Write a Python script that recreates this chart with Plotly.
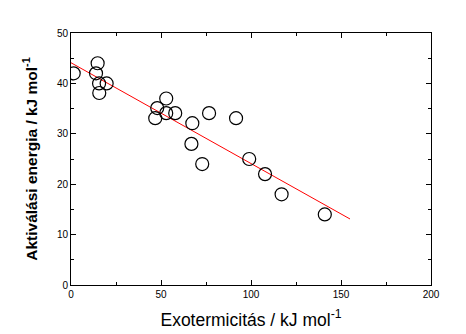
import plotly.graph_objects as go

exo = [1.5, 14.8, 13.9, 15.6, 15.7, 19.8, 52.9, 47.9, 46.8, 52.9, 57.9, 67.4, 76.7, 66.9, 91.7, 72.9, 99.0, 107.8, 117.0, 141.0]
ea = [42.0, 44.0, 42.0, 40.0, 38.1, 40.0, 37.0, 35.1, 33.1, 34.1, 34.1, 32.1, 34.1, 28.0, 33.1, 24.0, 25.0, 22.0, 18.0, 14.0]

fit_x = [0, 155]
fit_y = [44.1, 13.1]

x_ticks = [0, 50, 100, 150, 200]
y_ticks = [0, 10, 20, 30, 40, 50]

fig = go.Figure()
fig.add_trace(go.Scatter(x=fit_x, y=fit_y, mode="lines",
                         line=dict(color="red", width=1), showlegend=False))
fig.add_trace(go.Scatter(x=exo, y=ea, mode="markers",
                         marker=dict(symbol="circle-open", size=13, color="black",
                                     line=dict(width=1.2, color="black")),
                         showlegend=False))

axis_common = dict(showgrid=False, zeroline=False, showline=True, linecolor="black",
                   linewidth=1, mirror="ticks", ticks="inside", ticklen=5,
                   tickcolor="black", tickwidth=1, automargin=False,
                   tickfont=dict(family="Liberation Sans, Arial", size=10, color="black"))

fig.update_xaxes(range=[0, 200], tickvals=x_ticks, ticktext=[str(v) for v in x_ticks],
                 minor=dict(ticks="inside", ticklen=3, dtick=25, tick0=0, tickcolor="black"),
                 title=dict(text="Exotermicitás / kJ mol<sup>-1</sup>",
                            font=dict(family="Liberation Sans, Arial", size=17.5, color="black"),
                            standoff=14),
                 **axis_common)
fig.update_yaxes(range=[0, 50], tickvals=y_ticks, ticktext=[str(v) for v in y_ticks],
                 minor=dict(ticks="inside", ticklen=3, dtick=5, tick0=0, tickcolor="black"),
                 title=dict(text="<b>Aktiválási energia / kJ mol<sup>-1</sup></b>",
                            font=dict(family="Liberation Sans, Arial", size=15.5, color="black"),
                            standoff=15),
                 **axis_common)

fig.update_layout(width=466, height=334, plot_bgcolor="white", paper_bgcolor="white",
                  margin=dict(l=71, r=35, t=33, b=49))

fig.write_html("out.html", config={"displayModeBar": False},
               post_script="document.body.style.margin='0';")
